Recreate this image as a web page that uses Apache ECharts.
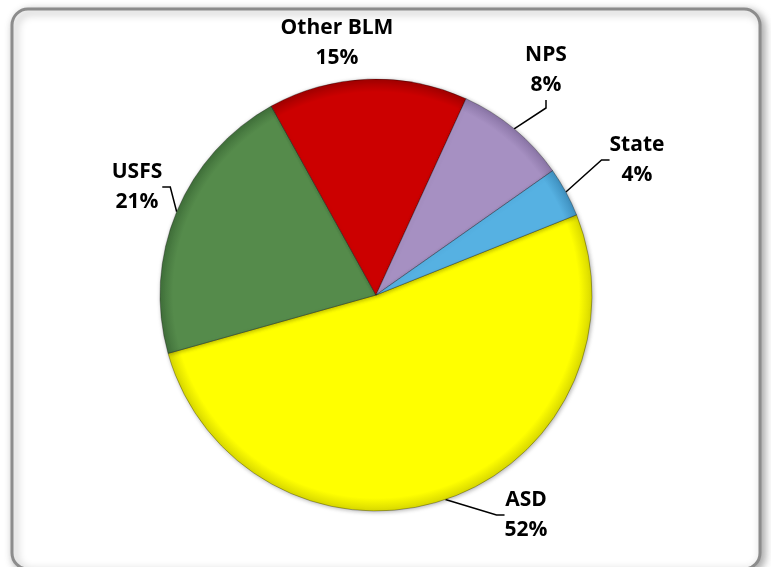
<!DOCTYPE html>
<html>
<head>
<meta charset="utf-8">
<script src="https://cdn.jsdelivr.net/npm/echarts@6/dist/echarts.min.js"></script>
<style>
  html, body { margin: 0; padding: 0; background: #fff; }
  #chart { width: 771px; height: 567px; }
</style>
</head>
<body>
<div id="chart"></div>
<script>
// shares (clockwise from the State/ASD edge)
const names = ["ASD", "USFS", "Other BLM", "NPS", "State"];
const values = [51.7, 21.3, 14.9, 8.4, 3.7];
const colors = ["#ffff00", "#558b4b", "#cc0000", "#a690c2", "#56b1e2"];
const rims = ["#d8d800", "#40703a", "#a00000", "#8a75a6", "#3f90bf"];

// where each label sits (centre of the text block)
const labelPos = [[526, 515], [137, 187], [337, 43], [546, 70], [637, 160]];

const cx = 376, cy = 295, R = 216;

const chart = echarts.init(document.getElementById("chart"));

const data = names.map((n, i) => ({
  name: n,
  value: values[i],
  itemStyle: {
    color: new echarts.graphic.RadialGradient(cx, cy, R, [
      { offset: 0, color: colors[i] },
      { offset: 0.94, color: colors[i] },
      { offset: 1, color: rims[i] }
    ], true)
  },
  labelLine: { show: n !== "Other BLM" }
}));

const option = {
  backgroundColor: "#fff",
  animation: false,
  graphic: [
    {
      type: "rect",
      shape: { x: 12, y: 9, width: 748, height: 560, r: 16 },
      style: {
        fill: "#fff",
        stroke: "#8c8c8c",
        lineWidth: 3,
        shadowBlur: 8,
        shadowOffsetX: 3,
        shadowOffsetY: 3,
        shadowColor: "rgba(0,0,0,0.35)"
      },
      z: -10
    }
  ],
  series: [
    {
      type: "pie",
      center: [cx, cy],
      radius: [0, R],
      startAngle: 21.8,
      clockwise: true,
      percentPrecision: 0,
      data: data,
      itemStyle: {
        borderColor: "rgba(0,0,0,0.3)",
        borderWidth: 1,
        shadowBlur: 4,
        shadowColor: "rgba(0,0,0,0.3)",
        shadowOffsetX: 1,
        shadowOffsetY: 1
      },
      label: {
        show: true,
        position: "outside",
        formatter: "{b}\n{d}%",
        fontFamily: "Open Sans",
        fontWeight: "bold",
        fontSize: 21,
        lineHeight: 30,
        color: "#000",
        align: "center"
      },
      labelLine: {
        show: true,
        length: 10,
        length2: 8,
        lineStyle: { color: "#000", width: 1.5 }
      },
      labelLayout: function (p) {
        const pos = labelPos[p.dataIndex];
        return {
          x: pos[0],
          y: pos[1],
          align: "center",
          verticalAlign: "middle"
        };
      },
      emphasis: { disabled: true }
    }
  ]
};

chart.setOption(option);
</script>
</body>
</html>
